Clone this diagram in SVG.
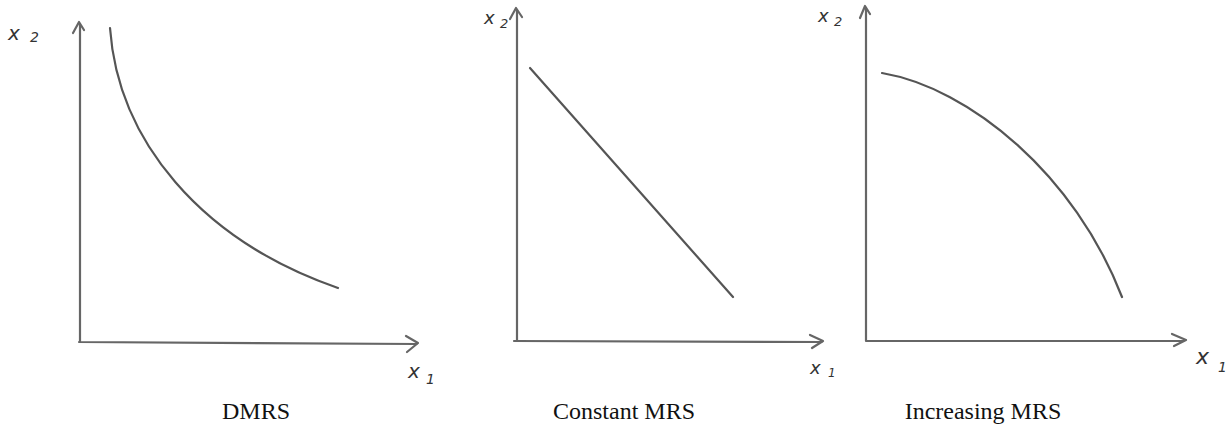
<svg xmlns="http://www.w3.org/2000/svg" width="1231" height="435" viewBox="0 0 1231 435">
<style>
.ax{fill:none;stroke:#666;stroke-width:2.2;stroke-linecap:round;stroke-linejoin:round}
.cv{fill:none;stroke:#555;stroke-width:2.2;stroke-linecap:round}
.hw{font-family:"DejaVu Sans",sans-serif;font-style:italic;fill:#333}
.cap{font-family:"Liberation Serif",serif;font-size:24px;fill:#111;text-anchor:middle}
</style>
<rect width="1231" height="435" fill="#fff"/>
<g id="panel1">
<path class="ax" d="M80,342 L80,24 M73,33 L79,22 L84,30 M79,342 L417,344 M406,336 L418,343 L407,352"/>
<path class="cv" d="M110,28 C118,140 200,240 338,288"/>
<text class="hw" x="8" y="40" font-size="20">x</text><text class="hw" x="30" y="42" font-size="14">2</text>
<text class="hw" x="408" y="378" font-size="20">x</text><text class="hw" x="426" y="384" font-size="14">1</text>
<text class="cap" x="256" y="419">DMRS</text>
</g>
<g id="panel2">
<path class="ax" d="M517,341 L517,10 M510,19 L516,8 L522,17 M514,341 L822,342 M810,335 L823,341 L812,348"/>
<path class="cv" d="M530,68 L733,297"/>
<text class="hw" x="484" y="24" font-size="18">x</text><text class="hw" x="500" y="28" font-size="13">2</text>
<text class="hw" x="810" y="374" font-size="18">x</text><text class="hw" x="828" y="377" font-size="12">1</text>
<text class="cap" x="624" y="419">Constant MRS</text>
</g>
<g id="panel3">
<path class="ax" d="M866,341 L866,8 M860,18 L865,6 L870,14 M866,341 L1184,341 M1172,334 L1186,340 L1174,346"/>
<path class="cv" d="M882,73 C970,88 1075,175 1122,297"/>
<text class="hw" x="818" y="22" font-size="18">x</text><text class="hw" x="834" y="26" font-size="13">2</text>
<text class="hw" x="1196" y="364" font-size="22">x</text><text class="hw" x="1218" y="372" font-size="14">1</text>
<text class="cap" x="983" y="419">Increasing MRS</text>
</g>
</svg>
